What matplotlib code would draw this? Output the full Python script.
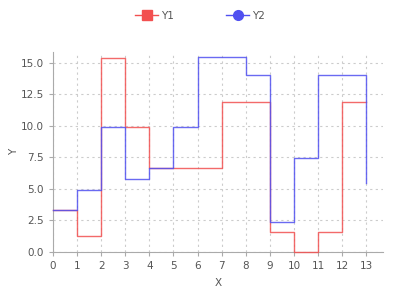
import matplotlib.pyplot as plt
from matplotlib.lines import Line2D

# data
x = list(range(14))
y1 = [3.35, 1.27, 15.35, 9.95, 6.65, 6.65, 6.65, 11.88, 11.88, 1.56, 0.0, 1.56, 11.88, 11.88]
y2 = [3.35, 4.9, 9.92, 5.77, 6.65, 9.92, 15.5, 15.5, 14.05, 2.41, 7.46, 14.05, 14.05, 5.5]
xticks = list(range(14))
yticks = [0.0, 2.5, 5.0, 7.5, 10.0, 12.5, 15.0]

red = '#f25050'
blue = '#5050f0'
txt = '#555555'

fig = plt.figure(figsize=(4, 3), dpi=100)
ax = fig.add_axes([0.1325, 0.16, 0.825, 0.667])

ax.step(x, y1, where='post', color=red, lw=1.0, alpha=0.85, clip_on=False, zorder=3)
ax.step(x, y2, where='post', color=blue, lw=1.0, alpha=0.85, clip_on=False, zorder=3)

ax.set_xlim(0, 13.7)
ax.set_ylim(0, 15.87)
ax.set_xticks(xticks)
ax.set_yticks(yticks)
ax.set_yticklabels(['%.1f' % v for v in yticks])
ax.grid(True, color='#cccccc', linestyle=(0, (2, 3)), linewidth=0.8)
ax.set_axisbelow(True)

for s in ['top', 'right']:
    ax.spines[s].set_visible(False)
for s in ['left', 'bottom']:
    ax.spines[s].set_color('#aaaaaa')
ax.tick_params(colors='#aaaaaa', labelcolor=txt, labelsize=7.5, length=3)
ax.set_xlabel('X', color=txt, fontsize=7.5, labelpad=5)
ax.set_ylabel('Y', color=txt, fontsize=7.5, labelpad=1)

handles = [Line2D([], [], color=red, marker='s', markersize=7, lw=1),
           Line2D([], [], color=blue, marker='o', markersize=7, lw=1)]
fig.legend(handles, ['Y1', 'Y2'], loc='center', bbox_to_anchor=(0.5, 0.947),
           ncol=2, frameon=False, fontsize=7.5, labelcolor=txt,
           handlelength=2.2, handletextpad=0.3, columnspacing=5)

fig.savefig('out.png', dpi=100)
